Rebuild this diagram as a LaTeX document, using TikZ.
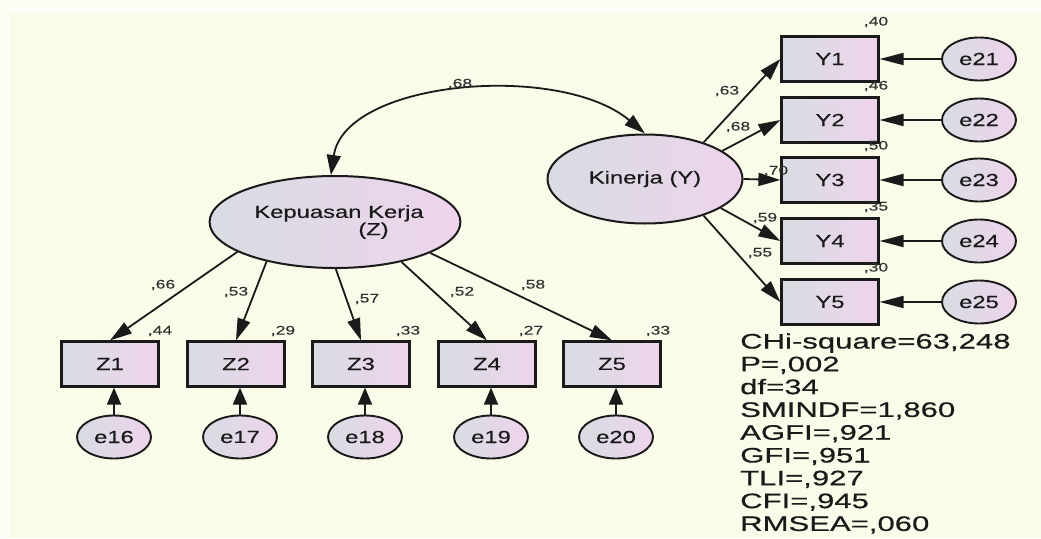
\documentclass[tikz,border=0pt]{standalone}
\usepackage{fontspec}
\setmainfont{Liberation Sans}
\newfontfamily\amosfont[FakeStretch=1.36,FakeBold=0.35]{Liberation Sans}
\newfontfamily\coeffont[FakeStretch=1.4,FakeBold=0.2]{Liberation Sans}
\newfontfamily\fitfont[FakeStretch=1.48,FakeBold=0.45]{Liberation Sans}
\usetikzlibrary{arrows.meta,shapes.geometric}

\definecolor{bgouter}{RGB}{252,253,245}
\definecolor{bginner}{RGB}{250,252,233}
\definecolor{shadeA}{RGB}{216,220,226}
\definecolor{shadeB}{RGB}{238,212,236}
\definecolor{ink}{RGB}{26,26,26}

\begin{document}
\begin{tikzpicture}[x=1pt,y=-1pt,
  indicator/.style={draw=ink, line width=2.2pt, rectangle, minimum width=97pt,
    minimum height=45pt, left color=shadeA, right color=shadeB, inner sep=0pt,
    text=ink, font=\amosfont\fontsize{17.5}{20}\selectfont},
  latent/.style={draw=ink, line width=2pt, ellipse, left color=shadeA,
    right color=shadeB, inner sep=0pt, text=ink,
    font=\amosfont\fontsize{17.5}{14}\selectfont},
  errvar/.style={draw=ink, line width=1.9pt, ellipse, minimum width=74pt,
    minimum height=43pt, left color=shadeA, right color=shadeB, inner sep=0pt,
    text=ink, font=\amosfont\fontsize{17.5}{20}\selectfont},
  loading/.style={draw=ink, line width=1.8pt, -{Triangle[length=22pt,width=13pt]}},
  errup/.style={draw=ink, line width=1.8pt, -{Triangle[length=17pt,width=14pt]}},
  errside/.style={draw=ink, line width=1.8pt, -{Triangle[length=24pt,width=12pt]}},
  cov/.style={draw=ink, line width=1.8pt,
    {Triangle[length=20pt,width=14pt]}-{Triangle[length=21pt,width=13pt]}},
  coef/.style={inner sep=0pt, text=ink!90, font=\coeffont\fontsize{12.5}{12.5}\selectfont},
  fit/.style={inner sep=0pt, anchor=base west, text=ink, font=\fitfont\fontsize{21}{21}\selectfont}
]
% canvas
\fill[bgouter] (0,0) rectangle (1041,538);
\fill[bginner] (10,13) rectangle (1041,538);
\useasboundingbox (0,0) rectangle (1041,538);

% latent variables
\node[latent, minimum width=195pt, minimum height=89pt] (ky) at (645,179) {Kinerja (Y)};
\node[latent, minimum width=197pt, minimum height=92pt, align=left] (kz) at (335,222)
  {\hspace*{8pt}Kepuasan Kerja\\\hspace*{112pt}(Z)};

% indicators of Kinerja with their error terms
\foreach \i/\y in {1/59,2/120,3/180,4/241,5/302}{
  \node[indicator] (Y\i) at (830,\y) {Y\i};
  \node[errvar] (e2\i) at (979,\y) {e2\i};
  \draw[errside] (e2\i.west) -- (Y\i.east);
}

% indicators of Kepuasan Kerja with their error terms
\foreach \i/\x/\n in {1/110/16,2/236/17,3/361/18,4/487/19,5/612/20}{
  \node[indicator] (Z\i) at (\x,364) {Z\i};
  \node[errvar] (e\n) at (\x+4,437) {e\n};
  \draw[errup] (e\n.north) -- (e\n.north |- Z\i.south);
}

% factor loadings
\foreach \i/\a in {1/197,2/210,3/271,4/329,5/342}
  \draw[loading] (kz.\a) -- (Z\i.north);
\foreach \i/\a in {1/32,2/20,4/-21,5/-32}
  \draw[loading] (ky.\a) -- (Y\i.west);
\draw[loading] (ky.east) -- (Y3.west);

% correlation between the latent variables
\draw[cov] (kz.95) .. controls (345,80) and (560,62) .. (ky.north);
\node[coef] (rzy) at (460,84) {,68};

% standardized loadings
\node[coef] (lz1) at (163,285) {,66};
\node[coef] (lz2) at (236,292) {,53};
\node[coef] (lz3) at (367,299) {,57};
\node[coef] (lz4) at (462,292) {,52};
\node[coef] (lz5) at (533,285) {,58};
\node[coef] (ly1) at (727,91) {,63};
\node[coef] (ly2) at (738,127) {,68};
\node[coef] (ly3) at (776,171) {,70};
\node[coef] (ly4) at (765,218) {,59};
\node[coef] (ly5) at (760,253) {,55};

% squared multiple correlations
\node[coef] (rz1) at (160,331) {,44};
\node[coef] (rz2) at (283,331) {,29};
\node[coef] (rz3) at (408,331) {,33};
\node[coef] (rz4) at (531,331) {,27};
\node[coef] (rz5) at (658,331) {,33};
\node[coef] (ry1) at (876,22) {,40};
\node[coef] (ry2) at (876,86) {,46};
\node[coef] (ry3) at (876,146) {,50};
\node[coef] (ry4) at (876,207) {,35};
\node[coef] (ry5) at (876,268) {,30};

% model fit summary
\foreach \t [count=\k from 0] in {{CHi-square=63,248},{P=,002},{df=34},{SMINDF=1,860},
    {AGFI=,921},{GFI=,951},{TLI=,927},{CFI=,945},{RMSEA=,060}}
  \node[fit] (fit\k) at (740,348.5+22.8*\k) {\t};
\end{tikzpicture}
\end{document}
